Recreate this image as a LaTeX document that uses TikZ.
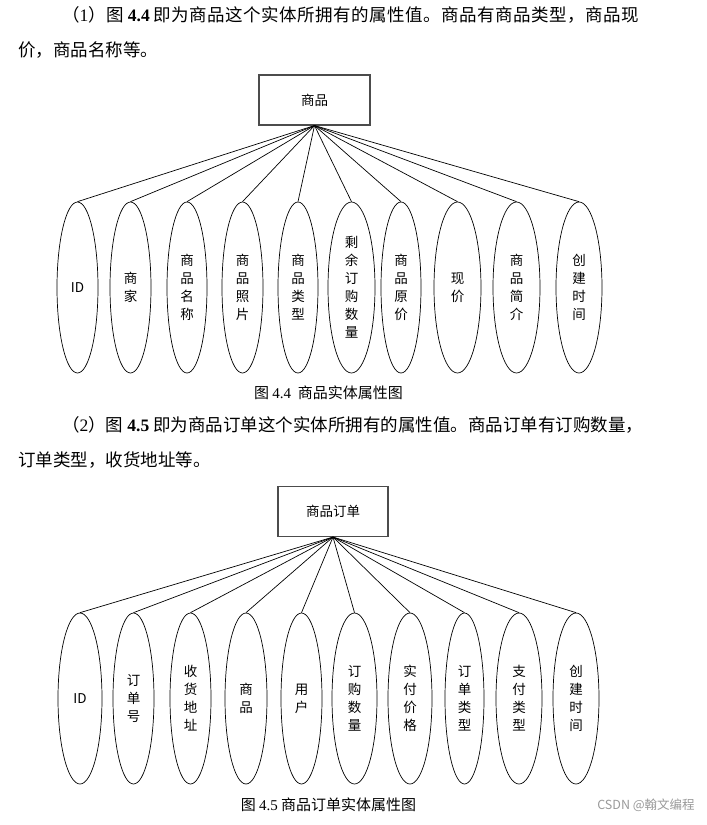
\documentclass[tikz,border=0pt]{standalone}
\usepackage{fontspec}
\setmainfont{Liberation Serif}
\newfontfamily\cjk{Noto Sans CJK SC}
\newfontfamily\cjkwide[LetterSpace=2.7]{Noto Sans CJK SC}
\usepackage{tikz}
\usetikzlibrary{
  shapes.geometric,  % 椭圆属性节点
  positioning        % 节点相对定位
}
\newcommand{\numb}[1]{{\rmfamily\bfseries #1}}
\newcommand{\numr}[1]{{\rmfamily #1}}
\tikzset{
  entity box/.style={
    draw=black!70,
    line width=1.1pt,
    minimum height=50pt,
    inner sep=0pt,
    font=\cjk\fontsize{13.5}{16}\selectfont
  },
  attr oval/.style={
    draw,
    ellipse,
    line width=0.7pt,
    minimum height=171pt,
    inner sep=0pt,
    align=center,
    font=\cjk\fontsize{13.5}{18}\selectfont
  },
  link/.style={
    line width=0.7pt
  },
  body line/.style={
    anchor=west,
    inner sep=0pt,
    font=\cjk\fontsize{17.5}{21}\selectfont
  },
  fig caption/.style={
    inner sep=0pt,
    font=\cjk\fontsize{15}{18}\selectfont
  }
}

\begin{document}
\begin{tikzpicture}[x=1pt, y=-1pt]
    \useasboundingbox (0,0) rectangle (707,825);

    % --- 第一段文字 ---
    \node[body line, font=\cjkwide\fontsize{17.5}{21}\selectfont] (p1) at (62,15) {（\numr{1}）图\kern4pt\numb{4.4}\kern4pt即为商品这个实体所拥有的属性值。商品有商品类型，商品现};
    \node[body line] (p2) at (18,50) {价，商品名称等。};

    % --- 图 4.4：商品实体 ---
    \node[entity box, minimum width=111pt] (s0) at (314.5,100) {商品};
    \foreach \i/\x/\w/\t in {
        1/77.5/41/{ID},
        2/130.5/41/{商\\家},
        3/187/40/{商\\品\\名\\称},
        4/242.5/41/{商\\品\\照\\片},
        5/298/40/{商\\品\\类\\型},
        6/351.5/47/{剩\\余\\订\\购\\数\\量},
        7/401/40/{商\\品\\原\\价},
        8/457.5/47/{现\\价},
        9/516.5/47/{商\\品\\简\\介},
        10/579/46/{创\\建\\时\\间}} {
      \node[attr oval, minimum width=\w pt] (a\i) at (\x,287.5) {\t};
      \draw[link] (s0.south) -- (a\i.north);
    }
    \node[fig caption] (cap1) at (328.5,393) {图 \numr{4.4}\ \ 商品实体属性图};

    % --- 第二段文字 ---
    \node[body line] (p3) at (62,425) {（\numr{2}）图\kern4pt\numb{4.5}\kern4pt即为商品订单这个实体所拥有的属性值。商品订单有订购数量，};
    \node[body line] (p4) at (18,460) {订单类型，收货地址等。};

    % --- 图 4.5：商品订单实体 ---
    \node[entity box, minimum width=110pt] (o0) at (333,511.5) {商品订单};
    \foreach \i/\x/\w/\t in {
        1/80/44/{ID},
        2/133.5/41/{订\\单\\号},
        3/190.5/41/{收\\货\\地\\址},
        4/246/42/{商\\品},
        5/301.5/41/{用\\户},
        6/354.5/45/{订\\购\\数\\量},
        7/410/44/{实\\付\\价\\格},
        8/464.5/39/{订\\单\\类\\型},
        9/519/46/{支\\付\\类\\型},
        10/576/46/{创\\建\\时\\间}} {
      \node[attr oval, minimum width=\w pt] (b\i) at (\x,698.5) {\t};
      \draw[link] (o0.south) -- (b\i.north);
    }
    \node[fig caption] (cap2) at (328.5,805) {图 \numr{4.5} 商品订单实体属性图};

    % 水印
    \node[inner sep=0pt, text=black!40, font=\cjk\fontsize{12.5}{15}\selectfont] (wm) at (646,805) {CSDN @翰文编程};
\end{tikzpicture}
\end{document}
